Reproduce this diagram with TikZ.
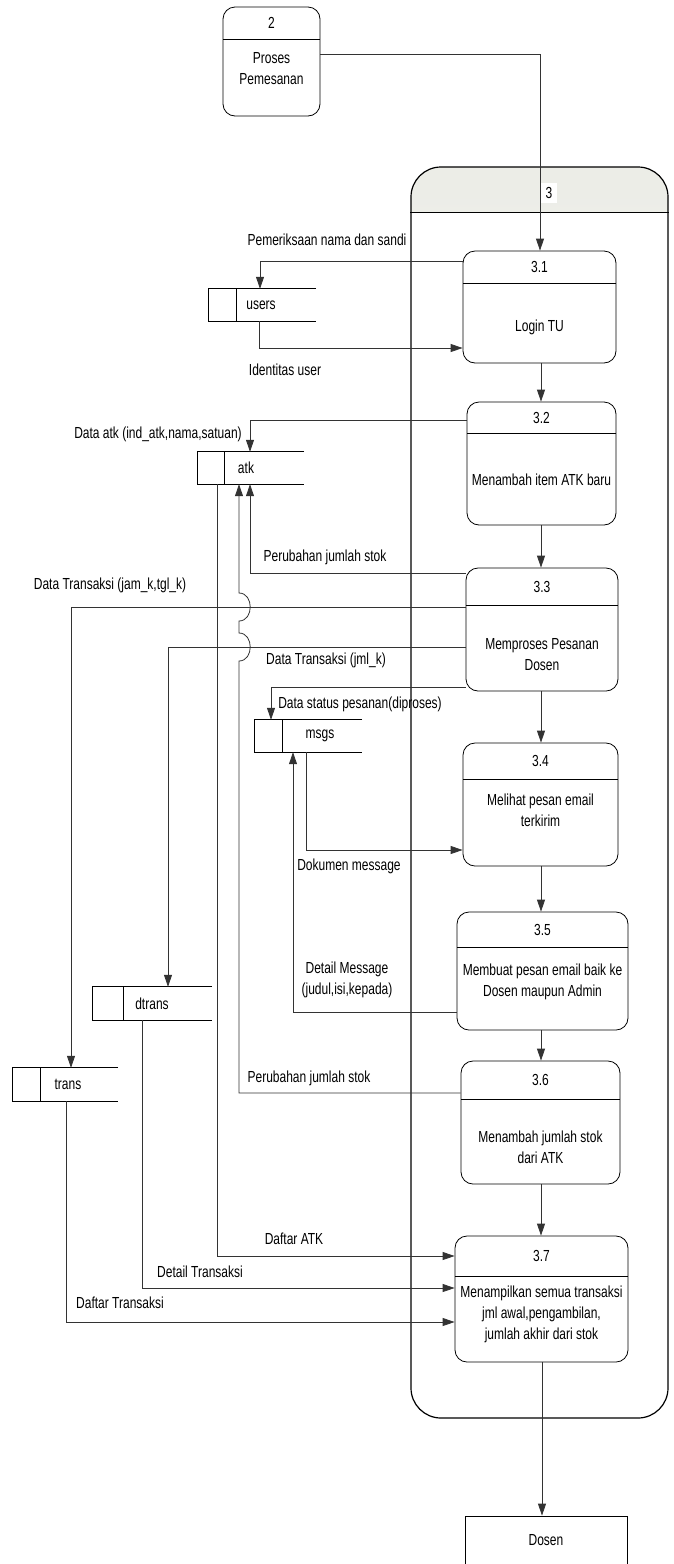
\documentclass[tikz,border=0pt]{standalone}
\usepackage{fontspec}
\setmainfont{Liberation Sans}[FakeStretch=0.75]
\usetikzlibrary{arrows.meta,calc}

\definecolor{hdrtop}{RGB}{236,237,231}
\definecolor{hdrbot}{RGB}{252,252,250}

\tikzset{
  procbox/.style={draw=black, rounded corners=12pt, line width=0.8pt, inner sep=0pt},
  hline/.style={draw=black, line width=0.8pt},
  storeln/.style={draw=black, line width=0.8pt},
  txt/.style={inner sep=0pt, align=center, font=\fontsize{16}{21}\selectfont},
  wire/.style={draw=black!80, line width=0.8pt},
  dataflow/.style={wire, -{Triangle[length=12pt,width=8pt]}},
}

% process: name, x1, y1, x2, y2, header y, number, text, text y
\newcommand\dfdproc[9]{%
  \node[procbox, minimum width={(#4-#2)*1pt}, minimum height={(#5-#3)*1pt}]
    (#1) at ({(#2+#4)/2},{(#3+#5)/2}) {};
  \draw[hline] (#2,#6) -- (#4,#6);
  \node[txt] (#1-num) at ({(#2+#4)/2},{(#3+#6)/2}) {#7};
  \node[txt] (#1-txt) at ({(#2+#4)/2},#9) {#8};
}

% data store: name, x1, y1, x2, y2, divider x, text x, label
\newcommand\dfdstore[8]{%
  \node[inner sep=0pt, minimum width={(#4-#2)*1pt}, minimum height={(#5-#3)*1pt}]
    (#1) at ({(#2+#4)/2},{(#3+#5)/2}) {};
  \draw[storeln] (#1.north east) -- (#1.north west) -- (#1.south west) -- (#1.south east);
  \draw[storeln] (#6,#3) -- (#6,#5);
  \node[txt] (#1-txt) at (#7,{(#3+#5)/2}) {#8};
}

\begin{document}
\begin{tikzpicture}[x=1pt,y=-1pt]
\useasboundingbox (0,0) rectangle (673,1564);

% process 3 container with shaded header
\node[draw=black, line width=1.2pt, rounded corners=30pt, inner sep=0pt,
      minimum width=257pt, minimum height=1251pt,
      path picture={\shade[sharp corners, top color=hdrtop, bottom color=hdrbot]
        ([xshift=-2pt,yshift=2pt]path picture bounding box.north west) rectangle
        ([xshift=2pt,yshift=-45pt]path picture bounding box.north east);}]
  (p3) at (539.5,792.5) {};
\draw[line width=1pt] (p3.west |- 0,212) -- (p3.east |- 0,212);
\node[txt, fill=white, inner xsep=5pt, inner ysep=4pt] (p3-num) at (549,193) {3};

% processes
\dfdproc{p2}{223}{7}{320}{116}{39}{2}{Proses\\Pemesanan}{68.5}
\dfdproc{p31}{463}{251}{616}{363}{283}{3.1}{Login TU}{327}
\dfdproc{p32}{467}{402}{616}{525}{433}{3.2}{Menambah item ATK baru}{480}
\dfdproc{p33}{466}{568}{618}{691}{605}{3.3}{Memproses Pesanan\\Dosen}{655}
\dfdproc{p34}{463}{743}{618}{866}{779}{3.4}{Melihat pesan email\\terkirim}{810}
\dfdproc{p35}{457}{912}{628}{1030}{947}{3.5}{Membuat pesan email baik ke\\Dosen maupun Admin}{982}
\dfdproc{p36}{461}{1061}{620}{1184}{1099}{3.6}{Menambah jumlah stok\\dari ATK}{1147}
\dfdproc{p37}{455}{1236}{628}{1362}{1276}{3.7}{Menampilkan semua transaksi\\jml awal,pengambilan,\\jumlah akhir dari stok}{1314}

% data stores
\dfdstore{users}{209}{289}{316}{321}{236}{261}{users}
\dfdstore{atk}{198}{452}{304}{484}{224}{246}{atk}
\dfdstore{msgs}{255}{720}{362}{752}{282}{320}{msgs}
\dfdstore{dtrans}{93}{987}{212}{1020}{123}{152}{dtrans}
\dfdstore{trans}{13}{1068}{118}{1101}{40}{68}{trans}

% external entity
\node[draw=black, line width=0.8pt, inner sep=0pt, minimum width=162pt, minimum height=80pt]
  (dosen) at (546,1556) {};
\node[txt] (dosen-txt) at (546,1540) {Dosen};

% flows along the main column
\draw[dataflow] (p2.east |- 0,54) -| (p31.north -| 540,0);
\draw[dataflow] (p31.south -| 541,0) -- (p32.north -| 541,0);
\draw[dataflow] (p32.south -| 541,0) -- (p33.north -| 541,0);
\draw[dataflow] (p33.south -| 541,0) -- (p34.north -| 541,0);
\draw[dataflow] (p34.south -| 541,0) -- (p35.north -| 541,0);
\draw[dataflow] (p35.south -| 541,0) -- (p36.north -| 541,0);
\draw[dataflow] (p36.south -| 541,0) -- (p37.north -| 541,0);
\draw[dataflow] (p37.south -| 542,0) -- (dosen.north -| 542,0);

% users
\draw[dataflow] (p31.west |- 0,261) -| (users.north -| 260,0);
\draw[dataflow] (users.south -| 259,0) |- (p31.west |- 0,348);
\node[txt] (l-cek) at (327,240) {Pemeriksaan nama dan sandi};
\node[txt] (l-id) at (285,370) {Identitas user};

% atk
\draw[dataflow] (p32.west |- 0,420) -| (atk.north -| 250,0);
\node[txt] (l-atk) at (158,434) {Data atk (ind\_atk,nama,satuan)};
\draw[dataflow] (p33.west |- 0,573) -| (atk.south -| 250,0);
\node[txt] (l-stok1) at (325,557) {Perubahan jumlah stok};

% transactions from 3.3
\draw[dataflow] (p33.west |- 0,607) -| (trans.north -| 71,0);
\node[txt] (l-jam) at (110,585) {Data Transaksi (jam\_k,tgl\_k)};
\draw[dataflow] (p33.west |- 0,647) -| (dtrans.north -| 168,0);
\node[txt] (l-jml) at (326,660) {Data Transaksi (jml\_k)};
\draw[dataflow] (p33.west |- 0,687) -| (msgs.north -| 271,0);
\node[txt] (l-status) at (360,704) {Data status pesanan(diproses)};

% messages
\draw[dataflow] (msgs.south -| 306,0) |- (p34.west |- 0,850);
\node[txt] (l-dok) at (349,866) {Dokumen message};
\draw[dataflow] (p35.west |- 0,1012) -| (msgs.south -| 293,0);
\node[txt] (l-detmsg) at (347,980) {Detail Message\\(judul,isi,kepada)};

% stock change from 3.6, hopping over two flows
\draw[dataflow] (p36.west |- 0,1093) -| (239,661)
  .. controls (254,661) and (254,633) .. (239,633) -- (239,621)
  .. controls (254,621) and (254,593) .. (239,593) -- (atk.south -| 239,0);
\node[txt] (l-stok2) at (309,1078) {Perubahan jumlah stok};

% reports into 3.7
\draw[dataflow] (atk.south -| 217,0) |- (p37.west |- 0,1256);
\node[txt] (l-daftaratk) at (294,1239) {Daftar ATK};
\draw[dataflow] (dtrans.south -| 142,0) |- (p37.west |- 0,1288);
\node[txt] (l-dettrans) at (200,1272) {Detail Transaksi};
\draw[dataflow] (trans.south -| 66,0) |- (p37.west |- 0,1322);
\node[txt] (l-daftartrans) at (120,1303) {Daftar Transaksi};
\end{tikzpicture}
\end{document}
